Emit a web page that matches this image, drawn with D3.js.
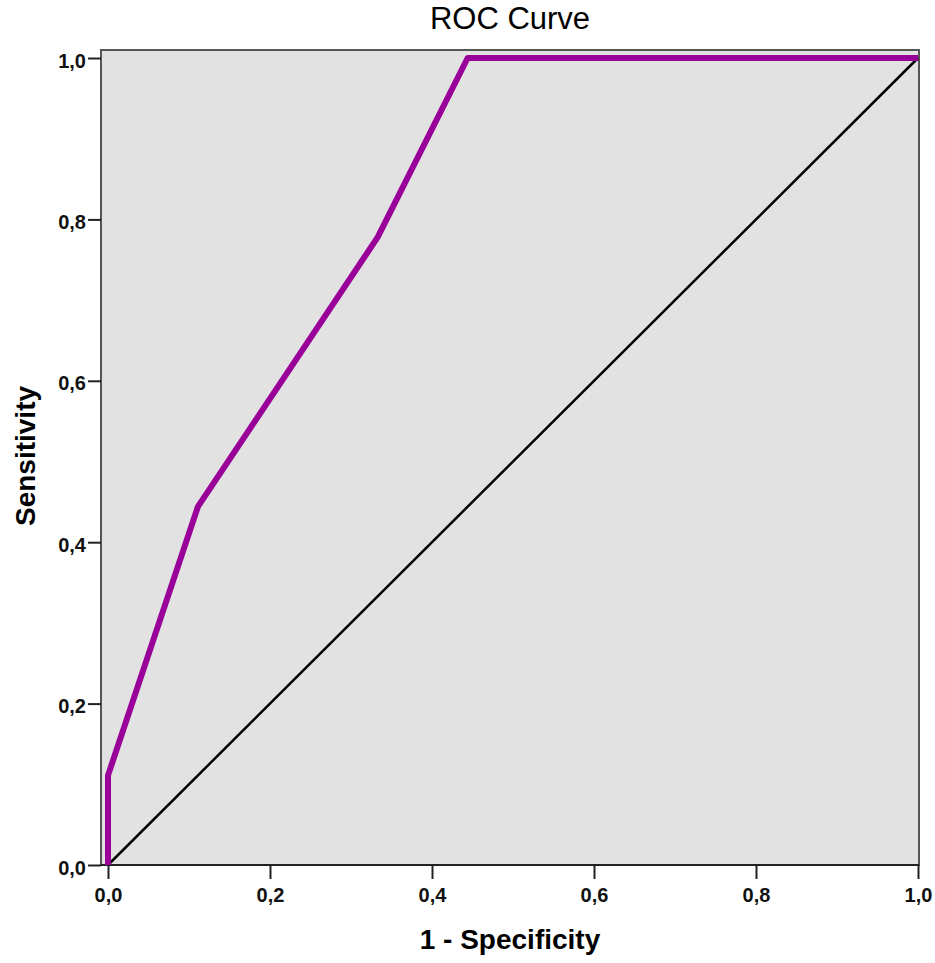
<!DOCTYPE html>
<html>
<head>
<meta charset="utf-8">
<script src="https://cdn.jsdelivr.net/npm/d3@7"></script>
<style>
  body { margin: 0; background: white; }
  text { font-family: "Liberation Sans", Arial, sans-serif; }
</style>
</head>
<body>
<svg id="chart" width="935" height="963"></svg>
<script>
// ROC points (1 - specificity, sensitivity)
const fpr = [0, 0, 0.111, 0.333, 0.444, 1];
const tpr = [0, 0.111, 0.444, 0.778, 1, 1];
const refLine = [0, 1];
const tickValues = [0, 0.2, 0.4, 0.6, 0.8, 1.0];

const svg = d3.select('#chart');

// plot frame is a bit bigger than the 0..1 range on the left and top
const frame = { left: 101, top: 50, right: 919, bottom: 865 };
const x = d3.scaleLinear().domain([0, 1]).range([108, 918]);
const y = d3.scaleLinear().domain([0, 1]).range([865, 58]);

const fmt = d => d3.format('.1f')(d).replace('.', ',');

svg.append('rect')
  .attr('x', frame.left)
  .attr('y', frame.top)
  .attr('width', frame.right - frame.left)
  .attr('height', frame.bottom - frame.top)
  .attr('fill', '#e2e2e2')
  .attr('stroke', '#555')
  .attr('stroke-width', 2);

// axes
const xAxis = svg.append('g')
  .attr('transform', `translate(0,${frame.bottom})`)
  .call(d3.axisBottom(x).tickValues(tickValues).tickFormat(fmt).tickSize(14).tickPadding(9));
const yAxis = svg.append('g')
  .attr('transform', `translate(${frame.left},0)`)
  .call(d3.axisLeft(y).tickValues(tickValues).tickFormat(fmt).tickSize(13).tickPadding(2));

[xAxis, yAxis].forEach(ax => {
  ax.select('.domain').remove();
  ax.selectAll('.tick line').attr('stroke', '#222').attr('stroke-width', 2);
  ax.selectAll('.tick text')
    .attr('fill', '#111')
    .style('font-size', '20px')
    .style('font-weight', 'bold')
    .style('font-family', '"Liberation Sans", Arial, sans-serif');
});
yAxis.selectAll('.tick text').attr('dy', '0.45em');

// x axis baseline in black
svg.append('line')
  .attr('x1', frame.left).attr('x2', frame.right)
  .attr('y1', frame.bottom).attr('y2', frame.bottom)
  .attr('stroke', '#222').attr('stroke-width', 2);

// reference diagonal
svg.append('path')
  .datum(refLine)
  .attr('d', d3.line().x(d => x(d)).y(d => y(d)))
  .attr('stroke', '#000')
  .attr('stroke-width', 2.5)
  .attr('fill', 'none');

// ROC curve
svg.append('path')
  .datum(d3.zip(fpr, tpr))
  .attr('d', d3.line().x(d => x(d[0])).y(d => y(d[1])))
  .attr('stroke', '#990099')
  .attr('stroke-width', 6)
  .attr('stroke-linejoin', 'round')
  .attr('fill', 'none');

svg.append('text')
  .attr('x', 510).attr('y', 29)
  .attr('text-anchor', 'middle')
  .style('font-size', '31px')
  .text('ROC Curve');

svg.append('text')
  .attr('x', 510).attr('y', 949)
  .attr('text-anchor', 'middle')
  .style('font-size', '28px')
  .style('font-weight', 'bold')
  .text('1 - Specificity');

svg.append('text')
  .attr('transform', 'translate(35,456) rotate(-90)')
  .attr('text-anchor', 'middle')
  .style('font-size', '28px')
  .style('font-weight', 'bold')
  .text('Sensitivity');
</script>
</body>
</html>
